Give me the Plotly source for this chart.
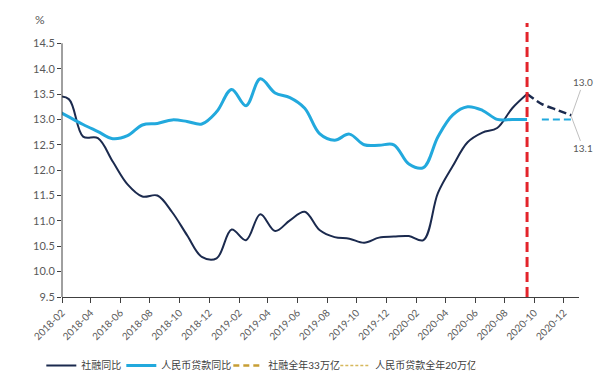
import pandas as pd
import plotly.graph_objects as go

# ---- data ----
months = list(pd.date_range("2018-01-01", "2020-09-01", freq="MS").strftime("%Y-%m"))

tsf_yoy = [13.45, 13.40, 12.66, 12.63, 12.17, 11.72, 11.48, 11.50, 11.17, 10.72, 10.29, 10.26,
           10.83, 10.62, 11.13, 10.80, 11.01, 11.18, 10.82, 10.68, 10.65, 10.57, 10.67, 10.69,
           10.70, 10.62, 11.55, 12.08, 12.55, 12.74, 12.83, 13.22, 13.50]

loan_yoy = [13.20, 13.05, 12.90, 12.76, 12.62, 12.68, 12.89, 12.92, 12.99, 12.96, 12.91, 13.15,
            13.59, 13.27, 13.80, 13.52, 13.43, 13.22, 12.72, 12.59, 12.71, 12.50, 12.49, 12.50,
            12.12, 12.05, 12.66, 13.09, 13.25, 13.18, 13.00, 13.00, 13.00]

tsf_fc_months = ["2020-09", "2020-10", "2020-11", "2020-12"]
tsf_fc = [13.50, 13.30, 13.19, 13.08]

loan_fc_months = ["2020-10", "2020-11", "2020-12"]
loan_fc = [13.0, 13.0, 13.0]

cutoff_month = "2020-09"
end_labels = ["13.0", "13.1"]

names = ["社融同比", "人民币贷款同比", "社融全年33万亿", "人民币贷款全年20万亿"]

# ---- styling ----
NAVY = "#1b2a4e"
BLUE = "#22a9dd"
RED = "#e3242b"
GOLD = "#c79e35"
GOLD2 = "#d6b85c"
TXT = "#595959"
FONT = "Lato, 'Noto Sans CJK SC', sans-serif"

fig = go.Figure()
per = dict(xperiod="M1", xperiodalignment="middle")

fig.add_trace(go.Scatter(x=months, y=tsf_yoy, name=names[0], mode="lines", legendwidth=35,
                         line=dict(color=NAVY, width=2, shape="spline", smoothing=1), **per))
fig.add_trace(go.Scatter(x=months, y=loan_yoy, name=names[1], mode="lines", legendwidth=62,
                         line=dict(color=BLUE, width=3, shape="spline", smoothing=1), **per))
fig.add_trace(go.Scatter(x=tsf_fc_months, y=tsf_fc, mode="lines", showlegend=False,
                         line=dict(color=NAVY, width=2.5, dash="8px,4px", shape="spline", smoothing=0.6), **per))
fig.add_trace(go.Scatter(x=loan_fc_months, y=loan_fc, mode="lines", showlegend=False,
                         line=dict(color=BLUE, width=2, dash="7px,4px"), **per))
# legend-only entries
fig.add_trace(go.Scatter(x=[None], y=[None], name=names[2], mode="lines", legendwidth=62,
                         line=dict(color=GOLD, width=2.5, dash="6px,4px")))
fig.add_trace(go.Scatter(x=[None], y=[None], name=names[3], mode="lines", legendwidth=95,
                         line=dict(color=GOLD2, width=1.5, dash="3px,2px")))

y_min, y_max_tick, y_top = 9.5, 14.5, 14.9
# red cut-off line
fig.add_trace(go.Scatter(x=[cutoff_month, cutoff_month], y=[y_min, y_top], mode="lines",
                         showlegend=False, line=dict(color=RED, width=3, dash="10px,5px"), **per))

end_x = pd.Timestamp(tsf_fc_months[-1] + "-01") + pd.Timedelta(days=15)
fig.add_annotation(x=end_x, y=tsf_fc[-1] - 0.02, text=end_labels[0], showarrow=True,
                   arrowhead=0, arrowwidth=1, arrowcolor="#bfbfbf", ax=12, ay=-34,
                   font=dict(size=10, color=TXT, family=FONT), standoff=0)
fig.add_annotation(x=end_x, y=tsf_fc[-1] - 0.02, text=end_labels[1], showarrow=True,
                   arrowhead=0, arrowwidth=1, arrowcolor="#bfbfbf", ax=12, ay=32,
                   font=dict(size=10, color=TXT, family=FONT), standoff=0)

fig.add_annotation(x=-0.043, y=1.012, xref="paper", yref="paper", text="%", showarrow=False,
                   font=dict(size=12, color=TXT, family=FONT), xanchor="center", yanchor="middle")

# y axis line only up to 14.5
fig.add_shape(type="line", xref="paper", yref="y", x0=0, x1=0, y0=y_min, y1=y_max_tick,
              line=dict(color="#404040", width=1))

ytick_vals = [9.5 + 0.5 * k for k in range(11)]

fig.update_layout(
    width=600, height=392,
    margin=dict(l=62, r=21, t=23, b=95, autoexpand=False),
    paper_bgcolor="white", plot_bgcolor="white",
    font=dict(family=FONT, color=TXT, size=11),
    showlegend=True,
    legend=dict(orientation="h", x=-0.04, xanchor="left", y=-0.25, yanchor="middle",
                font=dict(size=10, color="#404040", family=FONT), itemwidth=30,
                tracegroupgap=0, bgcolor="rgba(0,0,0,0)"),
    xaxis=dict(type="date", range=["2018-02-01", "2021-01-01"], tick0="2018-02-01", dtick="M2",
               tickformat="%Y-%m", tickangle=-45, ticks="outside", ticklen=5, tickcolor="#404040",
               showline=True, linecolor="#404040", linewidth=1, showgrid=False, zeroline=False,
               automargin=False, tickfont=dict(size=10, color=TXT, family=FONT)),
    yaxis=dict(range=[y_min, y_top], tickvals=ytick_vals, tickformat=".1f", ticks="outside",
               ticklen=4, tickcolor="#404040", showline=False, showgrid=False, zeroline=False,
               automargin=False, tickfont=dict(size=11, color=TXT, family=FONT)),
)

fig.write_html("out.html", config={"displayModeBar": False},
               post_script="document.body.style.margin='0px';")
